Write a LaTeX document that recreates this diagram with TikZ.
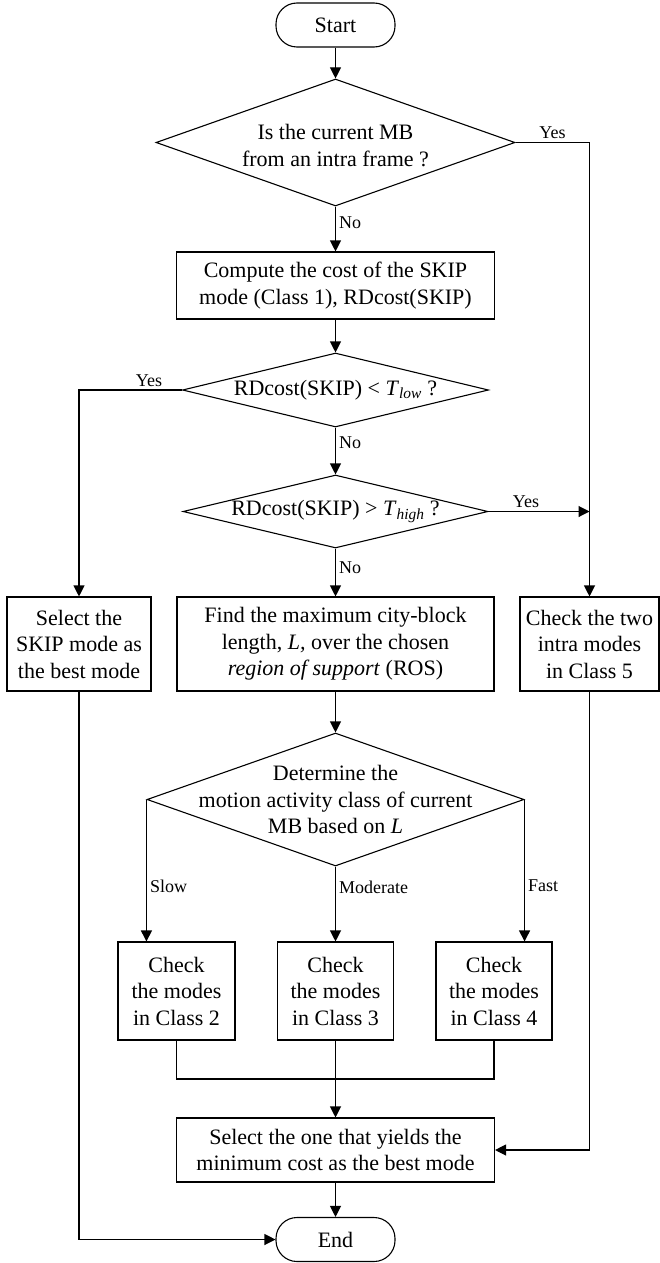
\documentclass[tikz,border=0pt]{standalone}
\usepackage{fontspec}
\setmainfont{Liberation Serif}
\usetikzlibrary{arrows.meta, shapes.geometric}

\begin{document}
\begin{tikzpicture}[x=1pt, y=-1pt, line width=1.1pt,
    every node/.style={inner sep=0pt},
    txt/.style={font=\fontsize{22}{26.5}\selectfont, align=center},
    lbl/.style={font=\fontsize{18}{21}\selectfont, inner sep=3pt},
    terminal/.style={txt, draw, rounded corners=21pt, minimum width=119pt, minimum height=44pt},
    process/.style 2 args={txt, draw, minimum width=#1, minimum height=#2},
    decision/.style 2 args={diamond, draw, minimum width=#1, minimum height=#2},
    flow/.style={-{Triangle[length=11pt, width=11pt]}}]
    \useasboundingbox (0,0) rectangle (660,1263);

    % Draw nodes
    \node[terminal] (start) at (335.5,25) {Start};
    \node[decision={359}{127}, label={[txt, yshift=-3pt]center:{Is the current MB\\from an intra frame ?}}] (intra) at (335.5,142.5) {};
    \node[process={318}{67}] (skipcost) at (335.5,285.5) {Compute the cost of the SKIP\\mode (Class 1), RDcost(SKIP)};
    \node[decision={306}{74}, label={[txt]center:{RDcost(SKIP) < \textit{T}\textsubscript{\textit{low}} ?}}] (low) at (335.5,390) {};
    \node[decision={305}{73}, label={[txt]center:{RDcost(SKIP) > \textit{T}\textsubscript{\textit{high}} ?}}] (high) at (335.5,511.5) {};
    \node[process={144}{94}] (skipbest) at (79,644) {Select the\\SKIP mode as\\the best mode};
    \node[process={317}{94}] (ros) at (335.5,644) {Find the maximum city-block\\length, \textit{L,} over the chosen\\\textit{region of support} (ROS)};
    \node[process={139}{94}] (class5) at (589.5,644) {Check the two\\intra modes\\in Class 5};
    \node[decision={377}{133}, label={[txt]center:{Determine the\\motion activity class of current\\MB based on \textit{L}}}] (motion) at (335.5,799.5) {};
    \node[process={117}{98}] (class2) at (176.5,991) {Check\\the modes\\in Class 2};
    \node[process={116}{98}] (class3) at (335.5,991) {Check\\the modes\\in Class 3};
    \node[process={116}{98}] (class4) at (494,991) {Check\\the modes\\in Class 4};
    \node[process={318}{64}] (best) at (335.5,1150) {Select the one that yields the\\minimum cost as the best mode};
    \node[terminal] (end) at (335.5,1239.5) {End};
    \coordinate (merge) at (335.5,1079);

    % Draw connections
    \draw[flow] (start) -- (intra);
    \draw[flow] (intra.south) -- (skipcost.north) node[lbl, right, pos=0.35] {No};
    \draw[flow] (intra.east) -| (class5.north) node[lbl, above, pos=0.25] {Yes};
    \draw[flow] (skipcost) -- (low);
    \draw[flow] (low.west) -| (skipbest.north) node[lbl, above, pos=0.16] {Yes};
    \draw[flow] (low.south) -- (high.north) node[lbl, right, pos=0.33] {No};
    \draw[flow] (high.east) -- (high.east -| class5.north) node[lbl, above, pos=0.37] {Yes};
    \draw[flow] (high.south) -- (ros.north) node[lbl, right, pos=0.4] {No};
    \draw[flow] (ros) -- (motion);
    \draw[flow] (motion.west) -- (motion.west |- class2.north) node[lbl, right, pos=0.61] {Slow};
    \draw[flow] (motion.south) -- (class3.north) node[lbl, right, pos=0.28] {Moderate};
    \draw[flow] (motion.east) -- (motion.east |- class4.north) node[lbl, right, pos=0.61] {Fast};
    \draw (class2.south) |- (merge) -| (class4.south);
    \draw[flow] (class3.south) -- (best.north);
    \draw[flow] (class5.south) |- (best.east);
    \draw[flow] (best) -- (end);
    \draw[flow] (skipbest.south) |- (end.west);
\end{tikzpicture}
\end{document}
